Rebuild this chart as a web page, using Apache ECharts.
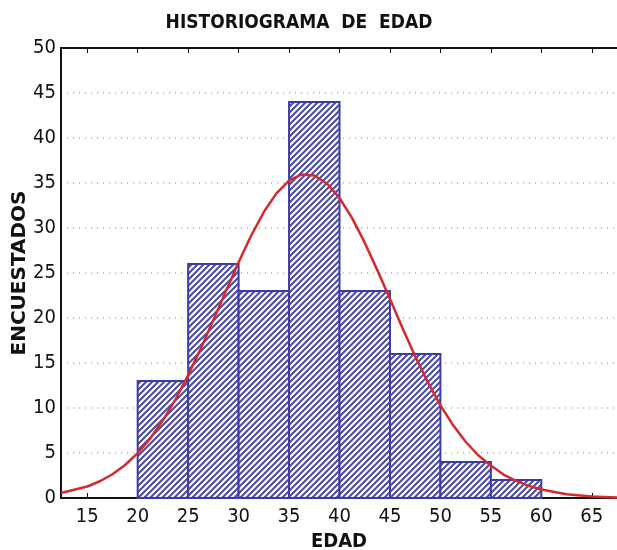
<!DOCTYPE html>
<html><head><meta charset="utf-8">
<script src="https://cdn.jsdelivr.net/npm/echarts@6/dist/echarts.min.js"></script>
<style>html,body{margin:0;padding:0;background:#fff}#c{width:617px;height:550px}</style>
</head><body><div id="c"></div>
<script>
// Histogram bins (left edges), bin width and counts
var binStarts = [20, 25, 30, 35, 40, 45, 50, 55];
var binWidth = 5;
var counts = [13, 26, 23, 44, 23, 16, 4, 2];
// Normal curve points
var curveX = [12.4, 15, 16.25, 17.5, 18.75, 20, 21.25, 22.5, 23.75, 25, 26.25, 27.5, 28.75, 30, 31.25, 32.5, 33.75, 35, 36.25, 37.5, 38.75, 40, 41.25, 42.5, 43.75, 45, 46.25, 47.5, 48.75, 50, 51.25, 52.5, 53.75, 55, 56.25, 57.5, 58.75, 60, 62.5, 65, 67.5];
var curveY = [0.55, 1.28, 1.86, 2.64, 3.67, 4.99, 6.63, 8.63, 10.97, 13.65, 16.6, 19.77, 23.0, 26.19, 29.17, 31.77, 33.85, 35.27, 35.95, 35.84, 34.95, 33.33, 31.09, 28.37, 25.32, 22.1, 18.86, 15.75, 12.86, 10.3, 8.1, 6.25, 4.75, 3.6, 2.6, 1.9, 1.35, 0.95, 0.42, 0.17, 0.06];
var xTicks = [15, 20, 25, 30, 35, 40, 45, 50, 55, 60, 65];

var FONT = 'DejaVu Sans Condensed';
var pc = document.createElement('canvas');
pc.width = 6; pc.height = 6;
var g = pc.getContext('2d');
g.fillStyle = '#ffffff'; g.fillRect(0, 0, 6, 6);
g.strokeStyle = '#4a4aa8'; g.lineWidth = 2;
g.beginPath();
g.moveTo(-1, 7); g.lineTo(7, -1);
g.moveTo(-4, 4); g.lineTo(4, -4);
g.moveTo(2, 10); g.lineTo(10, 2);
g.stroke();

var barData = binStarts.map(function (s, i) { return [s, s + binWidth, counts[i]]; });
var lineData = curveX.map(function (x, i) { return [x, curveY[i]]; });

var chart = echarts.init(document.getElementById('c'));
chart.setOption({
  animation: false,
  title: { text: 'HISTORIOGRAMA  DE  EDAD', left: 294, top: 9, textAlign: 'center',
    textStyle: { fontFamily: FONT, fontWeight: 'bold', fontSize: 19, color: '#111' } },
  grid: { left: 61, top: 48, right: 0, bottom: 52, outerBoundsMode: 'none', containLabel: false },
  xAxis: [{
    type: 'value', min: 12.4, max: 67.5, position: 'bottom',
    name: 'EDAD', nameLocation: 'middle', nameGap: 33,
    nameTextStyle: { fontFamily: FONT, fontWeight: 'bold', fontSize: 20, color: '#111' },
    axisLine: { lineStyle: { color: '#111', width: 2 } },
    axisTick: { show: true, inside: true, length: 5, customValues: xTicks, lineStyle: { color: '#111' } },
    axisLabel: { customValues: xTicks, fontFamily: FONT, fontSize: 20, color: '#111', margin: 9 },
    splitLine: { show: false }
  }, {
    type: 'value', min: 12.4, max: 67.5, position: 'top',
    axisLine: { lineStyle: { color: '#111', width: 2 } },
    axisTick: { show: true, inside: true, length: 5, customValues: xTicks, lineStyle: { color: '#111' } },
    axisLabel: { show: false },
    splitLine: { show: false }
  }],
  yAxis: {
    type: 'value', min: 0, max: 50, interval: 5,
    name: 'ENCUESTADOS', nameLocation: 'middle', nameGap: 31, nameMoveOverlap: false,
    nameTextStyle: { fontFamily: 'DejaVu Sans', fontWeight: 'bold', fontSize: 20, color: '#111' },
    axisLine: { show: true, lineStyle: { color: '#111', width: 2 } },
    axisTick: { show: false },
    axisLabel: { fontFamily: FONT, fontSize: 20, color: '#111', margin: 5 },
    splitLine: { show: true, lineStyle: { color: '#aaa', type: [1, 5], width: 1.5 } }
  },
  series: [{
    type: 'custom',
    data: barData,
    encode: { x: [0, 1], y: 2 },
    renderItem: function (params, api) {
      var p0 = api.coord([api.value(0), api.value(2)]);
      var p1 = api.coord([api.value(1), 0]);
      return {
        type: 'rect',
        shape: { x: p0[0], y: p0[1], width: p1[0] - p0[0], height: p1[1] - p0[1] },
        style: { fill: { image: pc, repeat: 'repeat' }, stroke: '#3c3ca8', lineWidth: 2 }
      };
    },
    z: 2
  }, {
    type: 'line', data: lineData, smooth: false, showSymbol: false,
    lineStyle: { color: '#d42a2a', width: 2.5, join: 'round' }, z: 3
  }]
});
</script></body></html>
